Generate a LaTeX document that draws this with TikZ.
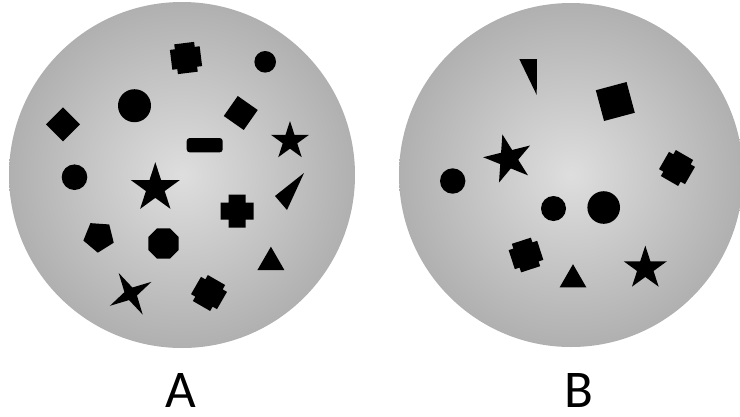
\documentclass[tikz,border=0pt]{standalone}
\usepackage{fontspec}
\setmainfont{Carlito}
\usetikzlibrary{shapes.geometric}
\definecolor{discin}{HTML}{DEDEDE}
\definecolor{discout}{HTML}{B0B0B0}
\tikzset{
  disc/.style={inner color=discin, outer color=discout},
  blob/.style={fill=black, draw=none, inner sep=0pt, outer sep=0pt},
  dot/.style={blob, circle},
  fivestar/.style={blob, star, star points=5, star point ratio=2.618},
  poly/.style={blob, regular polygon, regular polygon sides=#1},
  tag/.style={font=\fontsize{53}{58}\selectfont, anchor=base, inner sep=0pt},
  pics/plus/.style 2 args={code={
    \fill (-#2,-#1) -- (#2,-#1) -- (#2,-#2) -- (#1,-#2) -- (#1,#2) -- (#2,#2)
      -- (#2,#1) -- (-#2,#1) -- (-#2,#2) -- (-#1,#2) -- (-#1,-#2) -- (-#2,-#2) -- cycle;
  }}
}

\begin{document}
\begin{tikzpicture}[x=1pt, y=-1pt]
  \useasboundingbox (0,0) rectangle (740,416);

  % the two discs
  \shade[disc] (182,175) circle (173);
  \shade[disc] (571,175) circle (172);

  % disc A
  \pic[rotate=7] at (186,58) {plus={15}{10}};
  \node[dot, minimum size=21.6] (a2) at (265.2,61.8) {};
  \node[dot, minimum size=33] (a3) at (134.5,105.7) {};
  \node[poly=4, minimum size=34, rotate=45] (a4) at (63,124.3) {};
  \node[poly=4, minimum size=34.5, rotate=-35] (a5) at (240.75,113) {};
  \node[blob, rectangle, rounded corners=3pt, minimum width=36, minimum height=14.3] (a6) at (204.7,145.2) {};
  \node[fivestar, minimum size=40] (a7) at (290,141) {};
  \node[dot, minimum size=25.6] (a8) at (74.5,177.2) {};
  \node[fivestar, minimum size=51.6] (a9) at (155.3,188) {};
  \fill (304,173) -- (275,196) -- (287,210) -- cycle;
  \pic at (237,211) {plus={16.5}{8.5}};
  \node[poly=5, minimum size=32, rotate=176] (a12) at (98.9,236.7) {};
  \node[poly=8, minimum size=33] (a13) at (163.5,243.5) {};
  \node[poly=3, minimum size=31.2] (a14) at (270.9,262.3) {};
  \node[blob, star, star points=4, star point ratio=3.7, minimum size=48, rotate=30] (a15) at (130.7,293.8) {};
  \pic[rotate=-30] at (209,293) {plus={15}{10}};

  % disc B
  \fill (519.3,59) -- (537,59) -- (536.7,95) -- cycle;
  \node[poly=4, minimum size=45, rotate=15] (b2) at (615.3,101.5) {};
  \node[fivestar, minimum size=50.8, rotate=14] (b3) at (508.5,159) {};
  \node[dot, minimum size=25.4] (b4) at (452.7,181) {};
  \pic[rotate=-30] at (677,168) {plus={15}{10}};
  \node[dot, minimum size=25] (b6) at (553.5,208.5) {};
  \node[dot, minimum size=32.6] (b7) at (603.7,207.5) {};
  \pic[rotate=18] at (526,255) {plus={15}{10}};
  \node[poly=3, minimum size=30.8] (b9) at (573,279.6) {};
  \node[fivestar, minimum size=45.4] (b10) at (645.3,268.3) {};

  % captions
  \node[tag] (capA) at (180.5,407) {A};
  \node[tag] (capB) at (578.5,407) {B};
\end{tikzpicture}
\end{document}
